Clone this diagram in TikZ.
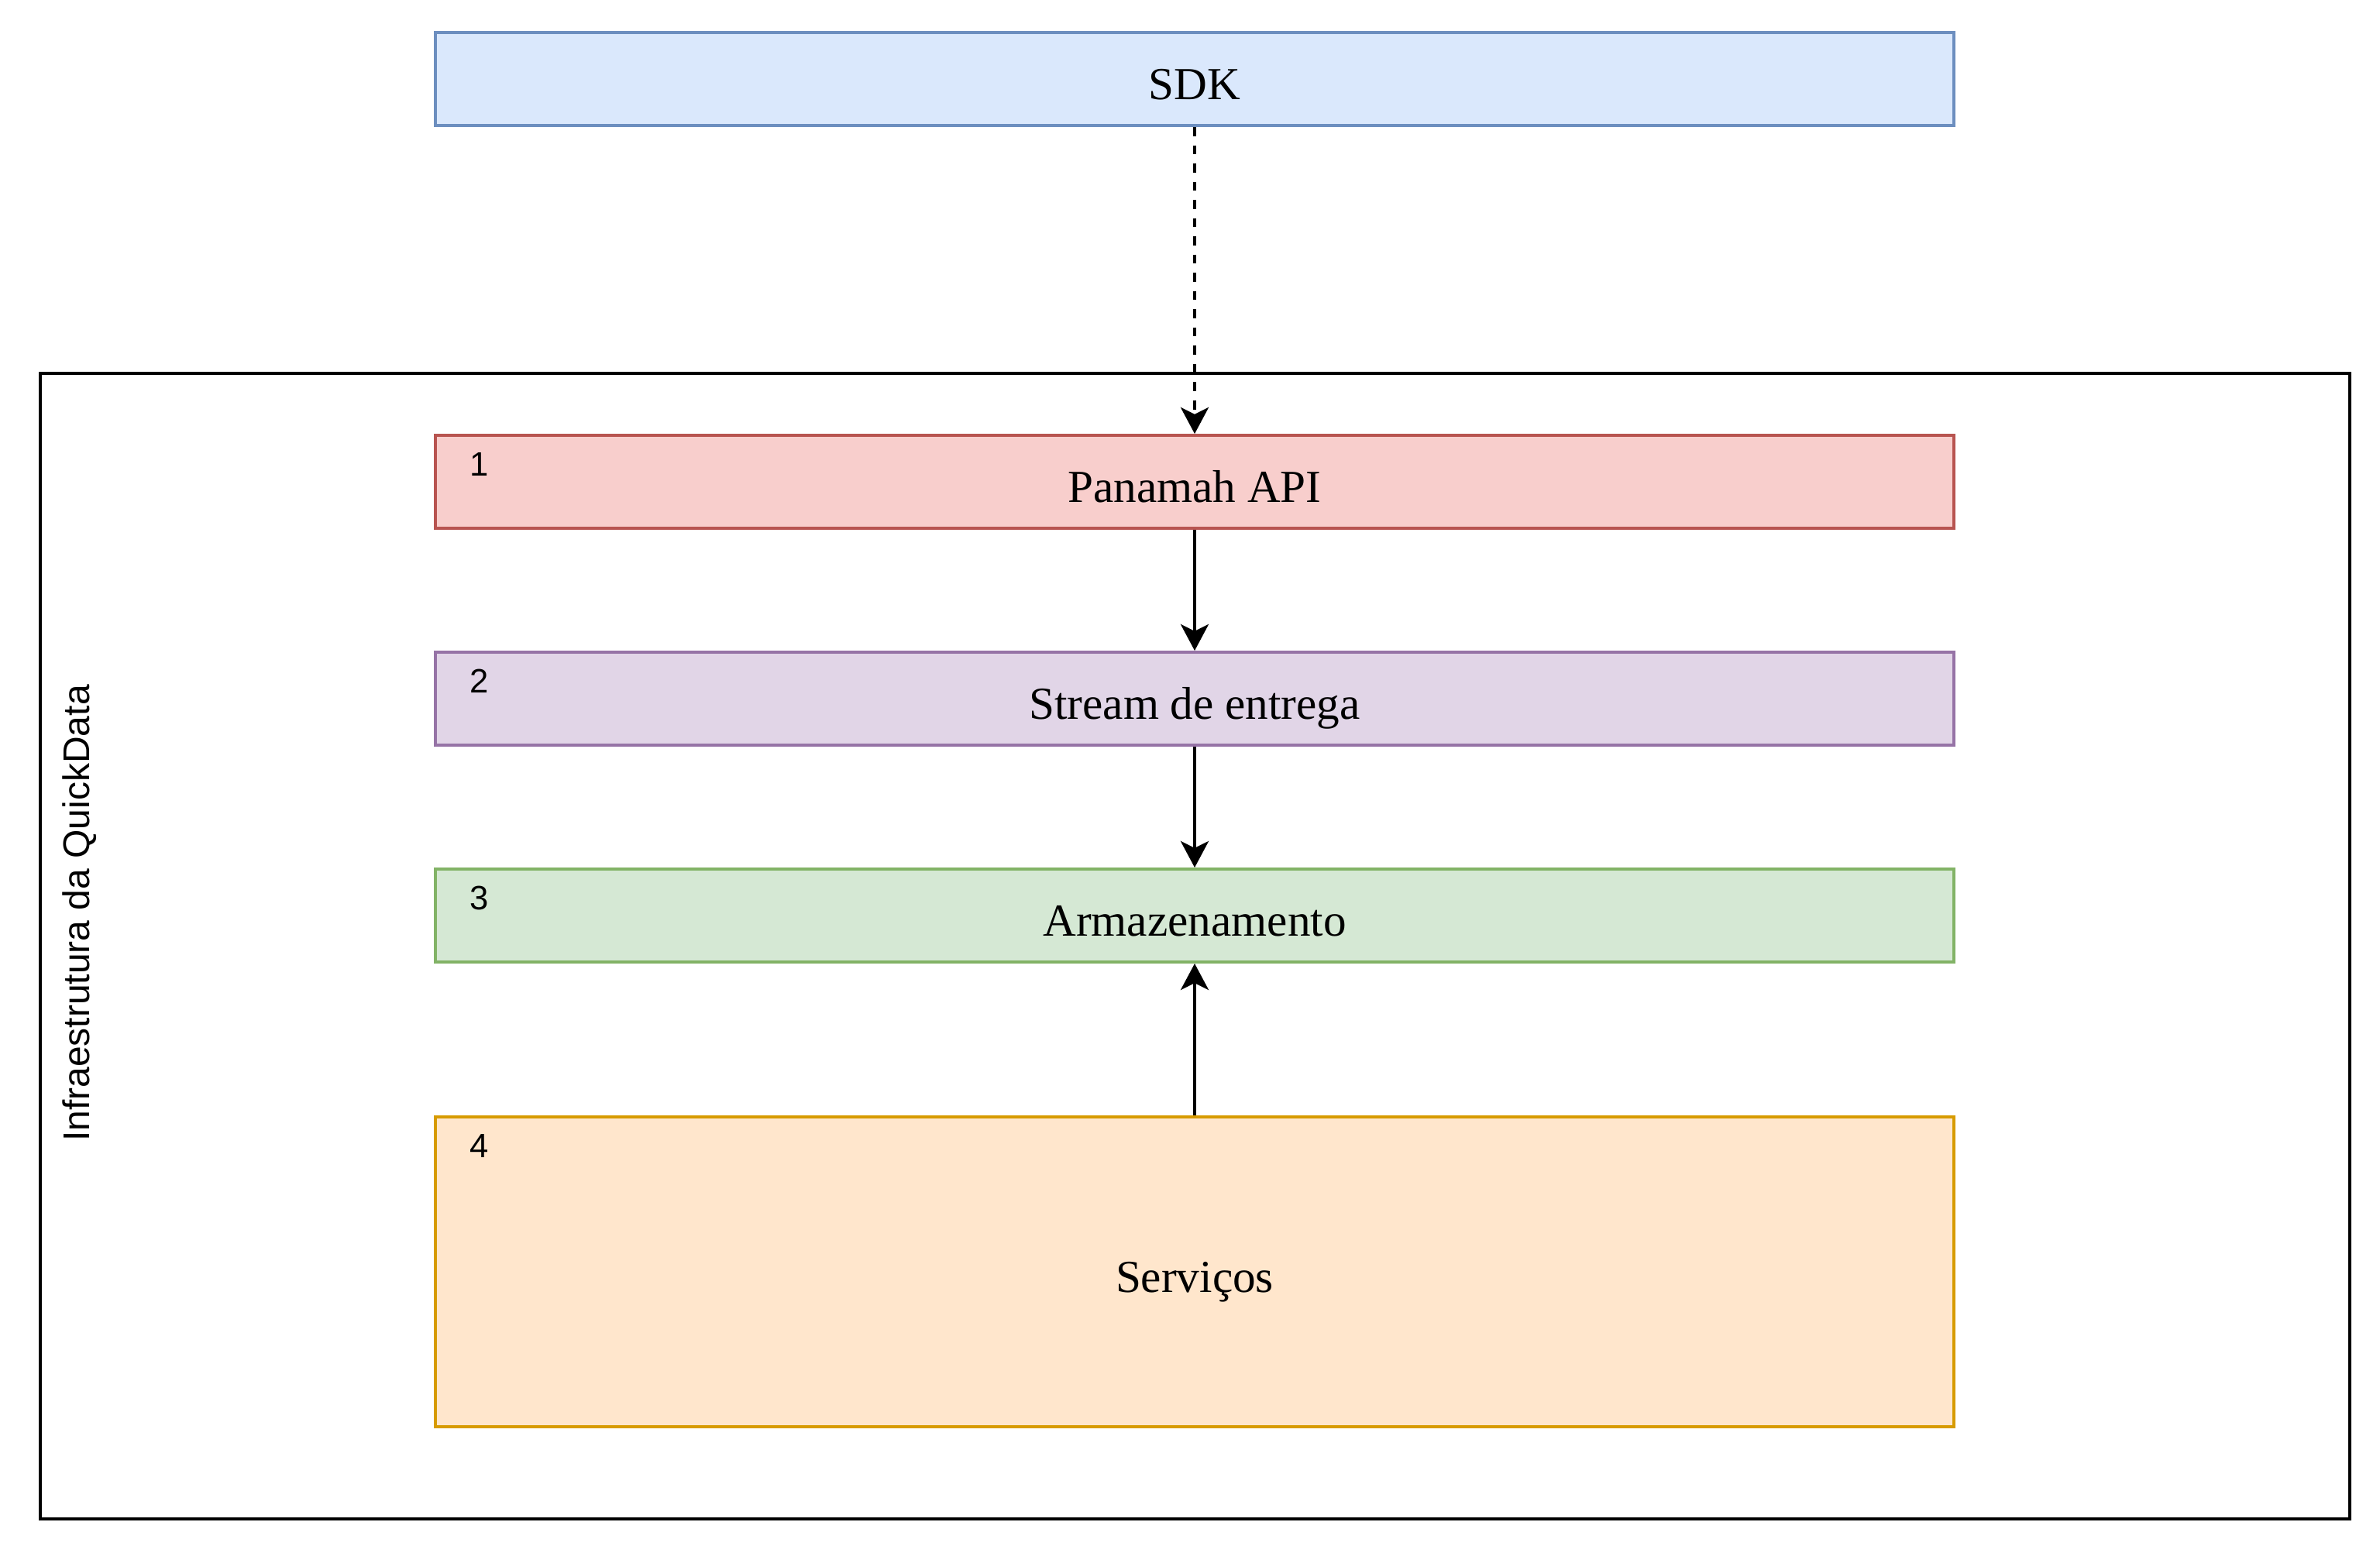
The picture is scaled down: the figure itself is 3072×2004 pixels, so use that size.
\documentclass[tikz,border=0pt]{standalone}
\usepackage{fontspec}
\setmainfont{Liberation Serif}
\setsansfont{Liberation Sans}
\usetikzlibrary{arrows.meta}
\definecolor{sdkfill}{HTML}{DAE8FC}\definecolor{sdkdraw}{HTML}{6C8EBF}
\definecolor{apifill}{HTML}{F8CECC}\definecolor{apidraw}{HTML}{B85450}
\definecolor{strfill}{HTML}{E1D5E7}\definecolor{strdraw}{HTML}{9673A6}
\definecolor{armfill}{HTML}{D5E8D4}\definecolor{armdraw}{HTML}{82B366}
\definecolor{srvfill}{HTML}{FFE6CC}\definecolor{srvdraw}{HTML}{D79B00}
\tikzset{
  layerbox/.style={rectangle, draw, line width=1pt, inner sep=0pt,
    minimum width=490pt, minimum height=30pt,
    font=\fontsize{14.8}{17}\selectfont, text height=13pt, text depth=0pt},
  numlabel/.style={inner sep=0pt, font=\sffamily\fontsize{10.9}{13}\selectfont,
    text height=0.716em, text depth=0pt},
  flow/.style={line width=1pt, -{Stealth[length=8.5pt,width=9pt,inset=2.2pt]}},
  dashflow/.style={flow, dash pattern=on 2.94pt off 2.94pt}
}
\begin{document}
\begin{tikzpicture}[x=0.25pt,y=-0.25pt]
\useasboundingbox (0,0) rectangle (3072,2004);
% outer container
\node[rectangle, draw=black, line width=1pt, inner sep=0pt,
      minimum width=745.3pt, minimum height=369.75pt] (infra) at (1542.3,1221.5) {};
\node[inner sep=0pt, rotate=90, font=\sffamily\fontsize{12}{14}\selectfont,
      text height=0.716em, text depth=0pt] (infralabel) at (101,1179) {Infraestrutura da QuickData};
% layers
\node[layerbox, fill=sdkfill, draw=sdkdraw] (sdk) at (1542,102) {SDK};
\node[layerbox, fill=apifill, draw=apidraw] (api) at (1542,622) {Panamah API};
\node[layerbox, fill=strfill, draw=strdraw] (stream) at (1542,902) {Stream de entrega};
\node[layerbox, fill=armfill, draw=armdraw] (arm) at (1542,1182) {Armazenamento};
\node[layerbox, fill=srvfill, draw=srvdraw, minimum height=100pt] (srv) at (1542,1642) {Serviços};
% numbers
\node[numlabel] (n1) at (619,600) {1};
\node[numlabel] (n2) at (619,880) {2};
\node[numlabel] (n3) at (619,1160) {3};
\node[numlabel] (n4) at (619,1480) {4};
% connectors
\draw[dashflow] (sdk.south) -- (api.north);
\draw[flow] (api.south) -- (stream.north);
\draw[flow] (stream.south) -- (arm.north);
\draw[flow] (srv.north) -- (arm.south);
\end{tikzpicture}
\end{document}
